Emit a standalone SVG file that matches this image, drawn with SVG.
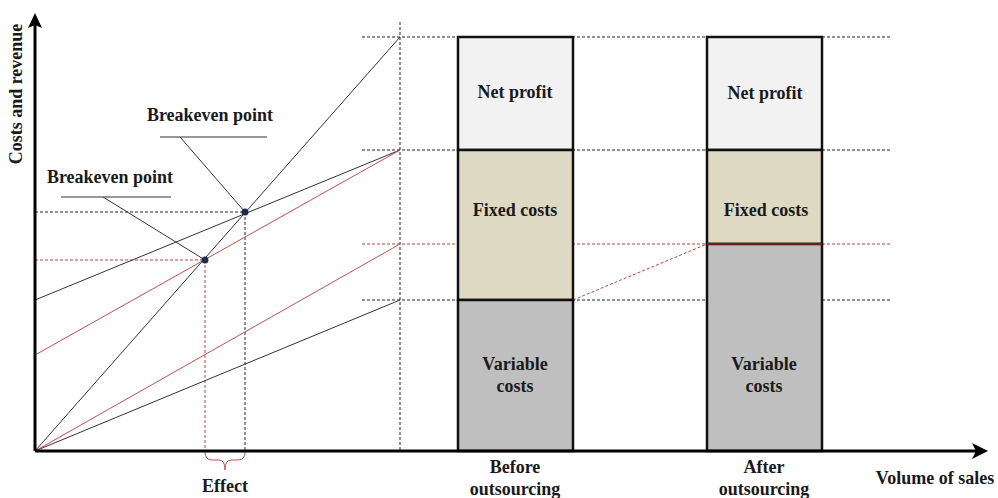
<svg xmlns="http://www.w3.org/2000/svg" width="998" height="498" viewBox="0 0 998 498">
<defs>
<style>
.t{font-family:"Liberation Serif","Times New Roman",serif;font-weight:bold;font-size:18px;fill:#1a1a1a;text-anchor:middle}
.ln{stroke:#333;stroke-width:1;fill:none}
.rd{stroke:#c0504d;stroke-width:1;fill:none}
.dk{stroke:#222;stroke-width:1;stroke-dasharray:3,2;fill:none}
.dr{stroke:#b5473f;stroke-width:1;stroke-dasharray:3,2;fill:none}
.bar{stroke:#111;stroke-width:2.5}
</style>
</defs>
<rect width="998" height="498" fill="#fff"/>
<g id="connectors">
<path class="dk" d="M362,37H892M362,150H892M362,300H892M400,22V451M35,212H245M245,212V451"/>
<path class="dr" d="M362,244H892M35,260H205M205,260V451M573,300L707,244"/>
<path class="ln" d="M35,451L400,37M35,300L400,150M35,451L400,300"/>
<path class="rd" d="M35,355L400,150M35,451L400,244"/>
<path class="ln" d="M160,137H267M180,137L245,212M61,197H171M103,197L205,260"/>
<path d="M205,452Q205,460 212,460L219,460Q225,460 225,470Q225,460 231,460L238,460Q245,460 245,452" fill="none" stroke="#c0504d" stroke-width="1"/>
</g>
<g id="bar-before">
<rect class="bar" x="458" y="37" width="115" height="113" fill="#f2f2f2"/>
<rect class="bar" x="458" y="150" width="115" height="150" fill="#ddd9c3"/>
<rect class="bar" x="458" y="300" width="115" height="151" fill="#bfbfbf"/>
<text class="t" x="515" y="98">Net profit</text>
<text class="t" x="515" y="216">Fixed costs</text>
<text class="t" x="515" y="370">Variable</text>
<text class="t" x="515" y="392">costs</text>
</g>
<g id="bar-after">
<rect class="bar" x="707" y="37" width="115" height="113" fill="#f2f2f2"/>
<rect class="bar" x="707" y="150" width="115" height="94" fill="#ddd9c3"/>
<rect class="bar" x="707" y="244" width="115" height="207" fill="#bfbfbf"/>
<line x1="707" y1="244" x2="822" y2="244" stroke="#6b1f1a" stroke-width="2"/>
<text class="t" x="765" y="99">Net profit</text>
<text class="t" x="766" y="216">Fixed costs</text>
<text class="t" x="764" y="370">Variable</text>
<text class="t" x="764" y="392">costs</text>
</g>
<g id="breakeven">
<circle cx="245" cy="212" r="3.5" fill="#1f2a4d"/>
<circle cx="205" cy="260" r="3.5" fill="#1f2a4d"/>
<text class="t" x="210" y="121">Breakeven point</text>
<text class="t" x="110" y="183">Breakeven point</text>
<text class="t" x="225" y="492">Effect</text>
</g>
<g id="axes">
<path d="M35,451V24M35,451H978" stroke="#000" stroke-width="3" fill="none"/>
<path d="M35,13L42,28L35,25L28,28Z" fill="#000"/>
<path d="M988,451L972,443L976,451L972,459Z" fill="#000"/>
<text class="t" x="515" y="473">Before</text>
<text class="t" x="515" y="495">outsourcing</text>
<text class="t" x="764" y="473">After</text>
<text class="t" x="764" y="495">outsourcing</text>
<text class="t" x="935" y="484">Volume of sales</text>
<text class="t" transform="translate(22,94) rotate(-90)">Costs and revenue</text>
</g>
</svg>
